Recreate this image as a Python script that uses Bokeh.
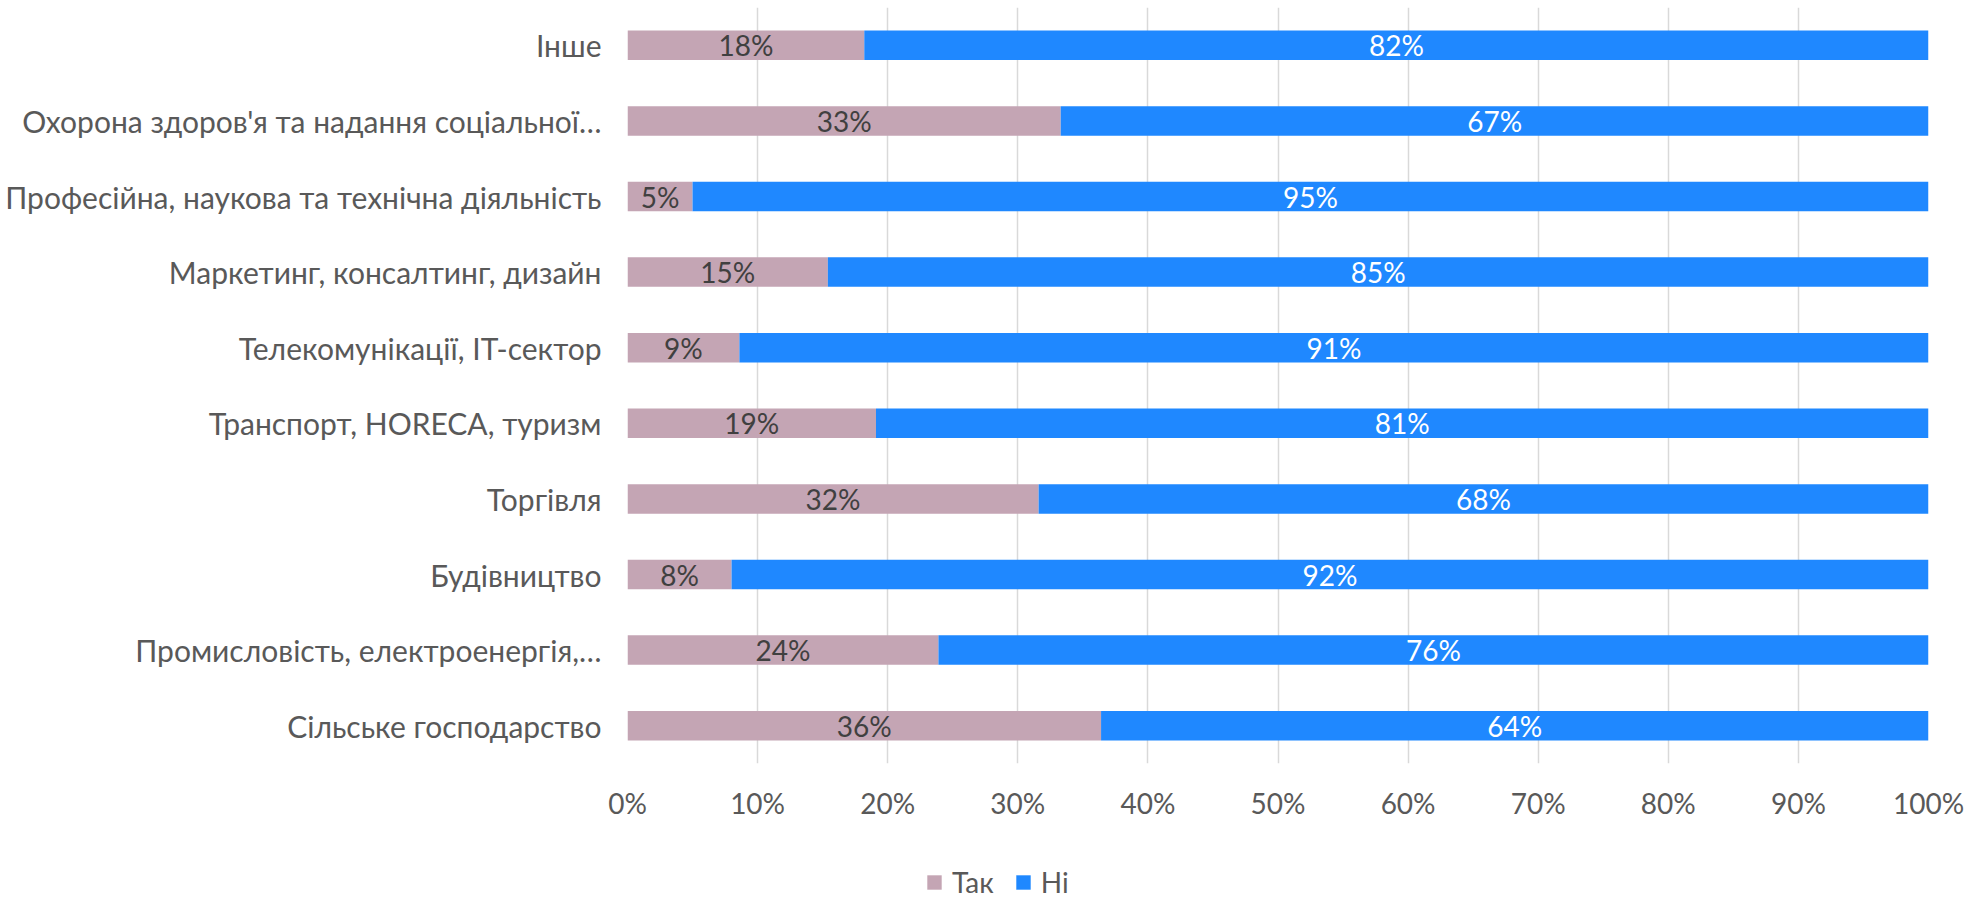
from bokeh.plotting import figure
from bokeh.layouts import column
from bokeh.models import (ColumnDataSource, FactorRange, Range1d, FixedTicker, PrintfTickFormatter,
                          Legend, LegendItem, Grid)
from bokeh.core.properties import value
from bokeh.embed import file_html
from bokeh.resources import INLINE

categories = [
    "Інше",
    "Охорона здоров'я та надання соціальної…",
    "Професійна, наукова та технічна діяльність",
    "Маркетинг, консалтинг, дизайн",
    "Телекомунікації, IT-сектор",
    "Транспорт, HORECA, туризм",
    "Торгівля",
    "Будівництво",
    "Промисловість, електроенергія,…",
    "Сільське господарство",
]
tak = [18.2, 33.3, 5.0, 15.4, 8.6, 19.1, 31.6, 8.0, 23.9, 36.4]
ni = [81.8, 66.7, 95.0, 84.6, 91.4, 80.9, 68.4, 92.0, 76.1, 63.6]
series = ["Так", "Ні"]
colors = ["#C4A5B4", "#1F88FF"]
x_ticks = [0, 10, 20, 30, 40, 50, 60, 70, 80, 90, 100]

FONT = "Lato"
FS = "28px"
GREY = "#595959"
W = 1966

source = ColumnDataSource(dict(cat=categories, **{series[0]: tak, series[1]: ni}))

p = figure(
    width=W, height=861,
    y_range=FactorRange(*reversed(categories)),
    x_range=Range1d(0, 100),
    output_backend="svg", toolbar_location=None,
    min_border_left=627, min_border_right=38, min_border_top=7, min_border_bottom=98,
)

rs = p.hbar_stack(series, y="cat", height=0.39, color=colors, source=source, line_color=None)

# data labels
lab_tak = ColumnDataSource(dict(
    x=[t / 2 for t in tak], y=categories, t=[f"{round(t)}%" for t in tak]))
lab_ni = ColumnDataSource(dict(
    x=[t + n / 2 for t, n in zip(tak, ni)], y=categories, t=[f"{round(n)}%" for n in ni]))
p.text(x="x", y="y", text="t", source=lab_tak, text_align="center", text_baseline="middle",
       text_font=value(FONT), text_font_size=FS, text_color="#404040")
p.text(x="x", y="y", text="t", source=lab_ni, text_align="center", text_baseline="middle",
       text_font=value(FONT), text_font_size=FS, text_color="#FFFFFF")

p.outline_line_color = None
p.ygrid.grid_line_color = None
p.xgrid.grid_line_color = "#D9D9D9"
p.xgrid.grid_line_width = 1.5
p.xaxis.ticker = FixedTicker(ticks=x_ticks)
p.xaxis.formatter = PrintfTickFormatter(format="%d%%")

for ax in (p.xaxis, p.yaxis):
    ax.axis_line_color = None
    ax.major_tick_line_color = None
    ax.minor_tick_line_color = None
    ax.major_tick_out = 0
    ax.major_tick_in = 0
    ax.major_label_text_font = FONT
    ax.major_label_text_font_size = FS
    ax.major_label_text_color = GREY
p.yaxis.major_label_text_font_size = "30px"
p.xaxis.major_label_standoff = 22
p.yaxis.major_label_standoff = 26

# legend strip under the chart; its bars have zero height so only the legend shows
p2 = figure(
    width=W, height=38, x_range=Range1d(0, 100), y_range=FactorRange(*reversed(categories)),
    output_backend="svg", toolbar_location=None, x_axis_location=None, y_axis_location=None,
    min_border_left=0, min_border_right=0, min_border_top=0, min_border_bottom=0,
)
p2.outline_line_color = None
for r in list(p2.center) + list(p2.renderers):
    if isinstance(r, Grid):
        r.visible = False
        r.grid_line_color = None
rs2 = p2.hbar_stack(series, y="cat", height=0, color=colors, source=source, line_color=None)

legend = Legend(
    items=[LegendItem(label=series[i], renderers=[rs2[i]]) for i in range(2)],
    location=(298, 0), orientation="horizontal",
    glyph_width=18, glyph_height=18, label_height=18, label_standoff=9, spacing=20,
    padding=0, margin=0, border_line_color=None, background_fill_alpha=0,
    label_text_font=FONT, label_text_font_size=FS, label_text_color=GREY,
    label_text_baseline="middle",
)
p2.add_layout(legend, "center")

layout = column(p, p2, spacing=0)
open("out.html", "w").write(file_html(layout, INLINE))
